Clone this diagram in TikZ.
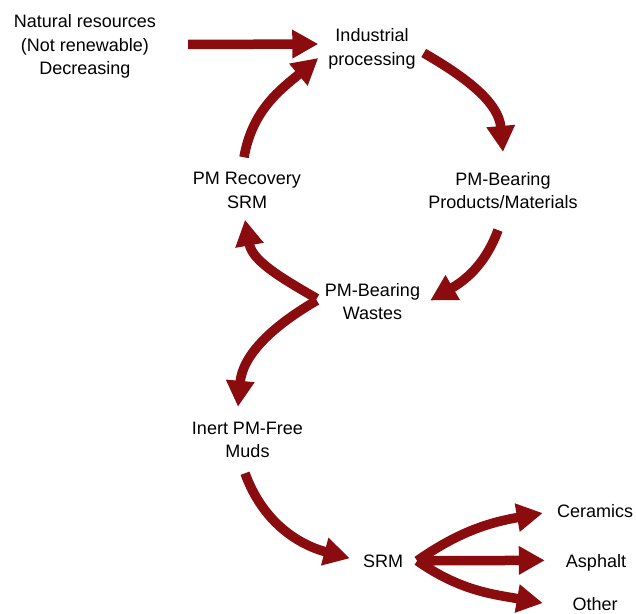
\documentclass[tikz,border=0pt]{standalone}
\usepackage{fontspec}
\setmainfont{Liberation Sans}
\usetikzlibrary{arrows.meta,calc}
\definecolor{flowred}{RGB}{139,12,14}

\begin{document}
\begin{tikzpicture}[x=1pt,y=1pt,
    lbl/.style={align=center,inner sep=0pt,font=\fontsize{18}{23.5}\selectfont},
    flow/.style={flowred,line width=9.5pt,-{Triangle[length=26pt,width=27pt]}}]
  \useasboundingbox (0,0) rectangle (636,-613);
  % labels
  \node[lbl] (nat)   at (85,-46.5)    {Natural resources\\(Not renewable)\\Decreasing};
  \node[lbl] (ind)   at (372,-49)     {Industrial\\processing};
  \node[lbl] (rec)   at (247,-190.5)  {PM Recovery\\SRM};
  \node[lbl] (prod)  at (503,-190.5)  {PM-Bearing\\Products/Materials};
  \node[lbl] (waste) at (372.5,-301.5) {PM-Bearing\\Wastes};
  \node[lbl] (muds)  at (247.5,-440)  {Inert PM-Free\\Muds};
  \node[lbl,anchor=base] (srm) at (383,-567) {SRM};
  \node[lbl,anchor=base] (cer) at (595,-517) {Ceramics};
  \node[lbl,anchor=base] (asp) at (596,-567) {Asphalt};
  \node[lbl,anchor=base] (oth) at (595,-610) {Other};
  % cycle
  \draw[flow] ([xshift=32pt,yshift=2pt]nat.east) -- ([xshift=-10pt,yshift=5pt]ind.west);
  \draw[flow] ([xshift=8pt,yshift=-4pt]ind.east) to[out=-30,in=95] ([yshift=20pt]prod.north);
  \draw[flow] ([xshift=-5pt,yshift=-21pt]prod.south) to[out=-110,in=30] ([xshift=10pt,yshift=1pt]waste.east);
  \draw[flow] ([xshift=-8pt,yshift=3pt]waste.west) to[out=150,in=-80] ([xshift=-2pt,yshift=-11pt]rec.south);
  \draw[flow] ([xshift=-3pt,yshift=15pt]rec.north) to[out=80,in=220] ([xshift=-10pt,yshift=-9pt]ind.west);
  % way out
  \draw[flow] ([xshift=-8pt,yshift=1pt]waste.west) to[out=-150,in=85] ([xshift=-9.5pt,yshift=15pt]muds.north);
  \draw[flow] ([xshift=-2.5pt,yshift=-15pt]muds.south) to[out=-70,in=165] ([xshift=-13pt,yshift=2.5pt]srm.west);
  % uses
  \draw[flow] ([xshift=14pt]srm.east) to[out=35,in=190] ([xshift=-14pt,yshift=-2.5pt]cer.west);
  \draw[flow] ([xshift=14pt]srm.east) -- ([xshift=-21pt,yshift=2pt]asp.west);
  \draw[flow] ([xshift=14pt]srm.east) to[out=-35,in=170] ([xshift=-29.5pt,yshift=0.5pt]oth.west);
\end{tikzpicture}
\end{document}
